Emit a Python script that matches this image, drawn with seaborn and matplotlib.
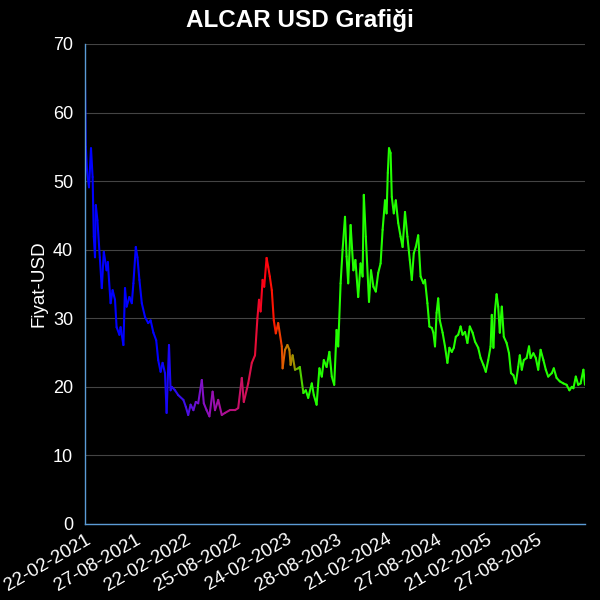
import matplotlib
matplotlib.use("Agg")
import matplotlib.pyplot as plt
from matplotlib.colors import LinearSegmentedColormap
import numpy as np
import pandas as pd
import seaborn as sns

# trading-day index and price
day = [0, 2, 5, 10, 15, 19, 22, 25, 27, 31, 37, 42, 47, 54, 57, 64, 69, 75, 79, 86,
       89, 96, 100, 104, 111, 117, 121, 127, 131, 136, 142, 150, 158, 164, 171, 178, 183, 189, 194, 200,
       204, 210, 214, 217, 225, 233, 246, 252, 258, 264, 271, 277, 283, 292, 297, 304, 311, 319, 325, 333,
       342, 350, 362, 375, 383, 392, 397, 408, 417, 425, 431, 435, 439, 444, 448, 454, 458, 462, 467, 472,
       477, 483, 492, 494, 500, 506, 511, 514, 519, 525, 533, 537, 546, 552, 558, 567, 572, 579, 586, 592,
       597, 604, 611, 617, 623, 629, 633, 639, 644, 650, 654, 658, 664, 671, 676, 683, 689, 694, 697, 702,
       710, 715, 721, 727, 733, 739, 744, 750, 754, 757, 760, 764, 767, 772, 777, 783, 789, 794, 800, 806,
       812, 817, 822, 827, 833, 839, 846, 850, 856, 861, 867, 871, 875, 879, 883, 887, 894, 900, 906, 911,
       917, 922, 927, 933, 939, 944, 950, 956, 962, 969, 975, 983, 989, 996, 1002, 1008, 1014, 1017, 1021, 1025,
       1029, 1033, 1037, 1042, 1047, 1054, 1060, 1065, 1071, 1077, 1083, 1087, 1092, 1097, 1104, 1110, 1114, 1121, 1127, 1133,
       1139, 1146, 1152, 1158, 1167, 1172, 1179, 1187, 1196, 1204, 1211, 1217, 1221, 1227, 1233, 1239, 1246, 1250]
price = [64.7, 55.0, 51.6, 49.1, 54.8, 50.6, 41.9, 38.9, 46.5, 44.3, 38.9, 34.4, 39.7, 37.0, 38.2, 32.2, 34.1, 32.7, 28.7, 27.6,
         28.7, 26.1, 34.4, 31.7, 33.1, 32.2, 35.1, 40.4, 38.9, 35.6, 32.2, 30.2, 29.3, 29.7, 27.9, 26.8, 23.9, 22.2, 23.5, 22.0,
         16.2, 26.1, 19.5, 20.0, 19.5, 18.8, 18.1, 17.1, 15.9, 17.4, 16.6, 17.8, 17.6, 21.0, 17.6, 16.6, 15.7, 19.3, 16.6, 18.1,
         15.9, 16.2, 16.6, 16.6, 16.9, 21.3, 17.8, 20.5, 23.5, 24.6, 30.0, 32.7, 31.0, 35.6, 34.6, 38.8, 37.5, 36.1, 34.1, 29.7,
         27.8, 29.3, 25.9, 22.7, 25.4, 26.1, 25.4, 23.2, 24.6, 22.5, 22.7, 22.9, 19.1, 19.5, 18.4, 20.5, 18.8, 17.4, 22.7, 21.5,
         23.9, 22.9, 25.1, 21.5, 20.3, 28.3, 25.9, 35.1, 40.0, 44.8, 39.0, 35.1, 43.6, 37.0, 38.5, 33.1, 38.0, 36.1, 48.0, 41.9,
         32.4, 37.0, 34.6, 33.9, 36.6, 38.0, 42.9, 47.2, 45.3, 51.2, 54.8, 54.1, 47.7, 45.3, 47.2, 43.9, 41.9, 40.4, 45.5, 41.9,
         38.5, 35.6, 39.5, 40.4, 42.1, 36.1, 35.1, 35.6, 32.2, 28.8, 28.6, 27.9, 25.9, 30.8, 32.9, 29.7, 27.9, 25.9, 23.5, 25.7,
         25.1, 25.7, 27.3, 27.6, 28.8, 27.6, 28.0, 26.4, 28.8, 27.9, 26.6, 25.7, 24.2, 23.2, 22.2, 23.9, 25.9, 30.5, 25.7, 31.2,
         33.5, 31.7, 27.9, 31.7, 27.3, 26.4, 24.9, 22.0, 21.7, 20.5, 22.9, 24.6, 22.5, 23.9, 24.2, 25.9, 24.2, 24.9, 24.2, 22.5,
         25.4, 23.9, 22.5, 21.5, 22.0, 22.7, 21.3, 20.8, 20.5, 20.3, 19.5, 20.0, 19.8, 21.5, 20.3, 20.5, 22.5, 20.3]

tick_day = [0, 125, 251, 376, 502, 627, 753, 878, 1004, 1129]
tick_label = ["22-02-2021", "27-08-2021", "22-02-2022", "25-08-2022", "24-02-2023",
              "28-08-2023", "21-02-2024", "27-08-2024", "21-02-2025", "27-08-2025"]

# colour runs blue -> purple -> red -> orange -> green along the series
stops = [(0.0, "#0000ff"), (0.144, "#0000ff"), (0.2, "#4010e8"), (0.232, "#8010c8"),
         (0.264, "#a010a8"), (0.304, "#c01070"), (0.336, "#e01040"), (0.36, "#ff0010"),
         (0.38, "#ff1800"), (0.396, "#e06000"), (0.412, "#b08800"), (0.428, "#60c000"),
         (0.44, "#22ff00"), (1.0, "#22ff00")]
cmap = LinearSegmentedColormap.from_list("trail", stops)

rows = []
for i in range(len(day) - 1):
    rows.append((i, day[i], price[i]))
    rows.append((i, day[i + 1], price[i + 1]))
df = pd.DataFrame(rows, columns=["seg", "gun", "fiyat"])
last = day[-1]
palette = {i: cmap(0.5 * (day[i] + day[i + 1]) / last) for i in range(len(day) - 1)}

sns.set_style("dark")
plt.rcParams["font.family"] = ["Liberation Sans", "DejaVu Sans"]

fig = plt.figure(figsize=(6, 6), dpi=100, facecolor="black")
ax = fig.add_axes([85 / 600, 76 / 600, 500 / 600, 480 / 600])
ax.set_facecolor("black")

sns.lineplot(data=df, x="gun", y="fiyat", hue="seg", palette=palette, estimator=None,
             sort=False, legend=False, linewidth=1.5, ax=ax,
             solid_capstyle="round", solid_joinstyle="round")

ax.set_xlim(0, last)
ax.set_ylim(0, 70)
ax.set_yticks(range(0, 71, 10))
ax.set_xticks(tick_day)
ax.set_xticklabels(tick_label, rotation=30, ha="right", rotation_mode="anchor")
ax.grid(axis="y", color="#444444", linewidth=0.8)
ax.grid(axis="x", visible=False)
ax.tick_params(axis="y", colors="white", labelsize=13, length=5, color="#888888")
ax.tick_params(axis="x", colors="white", labelsize=13.5, length=0, pad=5)
for side in ["top", "right"]:
    ax.spines[side].set_visible(False)
for side in ["left", "bottom"]:
    ax.spines[side].set_visible(True)
    ax.spines[side].set_color("#5b9bd5")
    ax.spines[side].set_linewidth(1)

ax.set_xlabel("")
ax.set_ylabel("Fiyat-USD", color="white", fontsize=13.5)
fig.suptitle("ALCAR USD Grafiği", color="white", fontsize=17.5, fontweight="bold", y=0.985)

fig.savefig("out.png", dpi=100, facecolor="black")
